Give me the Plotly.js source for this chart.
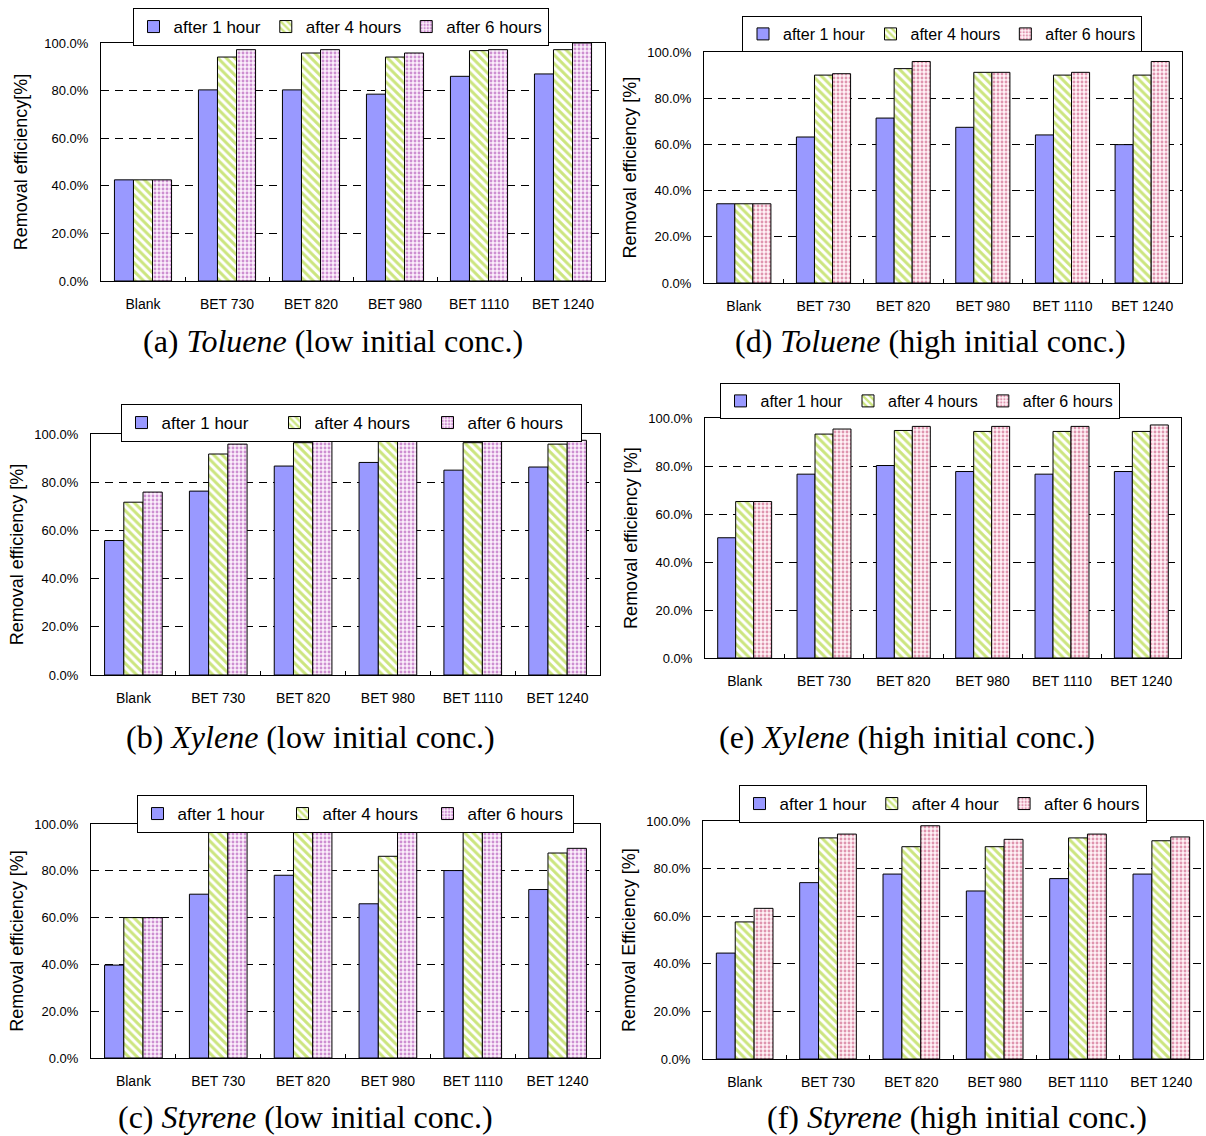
<!DOCTYPE html>
<html>
<head>
<meta charset="utf-8">
<script src="https://cdn.plot.ly/plotly-3.0.1.min.js"></script>
<style>html,body{margin:0;padding:0;background:#fff;}#chart{width:1206px;height:1136px;}</style>
</head>
<body>
<div id="chart"></div>
<script>
// ---- data ----
const categories = ['Blank', 'BET 730', 'BET 820', 'BET 980', 'BET 1110', 'BET 1240'];
const legendLabels = ['after 1 hour', 'after 4 hours', 'after 6 hours'];
const legendLabelsF = ['after 1 hour', 'after 4 hour', 'after 6 hours'];
const yTickVals = [0, 20, 40, 60, 80, 100];
const yTickText = ['0.0%', '20.0%', '40.0%', '60.0%', '80.0%', '100.0%'];

const tolueneLow1h = [42.5, 80.3, 80.3, 78.5, 86.0, 87.0];
const tolueneLow4h = [42.5, 94.1, 95.8, 94.1, 96.8, 97.2];
const tolueneLow6h = [42.5, 97.2, 97.2, 95.8, 97.2, 100.0];

const tolueneHigh1h = [34.3, 63.2, 71.4, 67.4, 64.1, 59.9];
const tolueneHigh4h = [34.3, 90.0, 92.8, 91.2, 90.0, 90.0];
const tolueneHigh6h = [34.3, 90.6, 95.9, 91.2, 91.2, 95.9];

const xyleneLow1h = [55.8, 76.3, 86.7, 88.2, 85.0, 86.3];
const xyleneLow4h = [71.7, 91.7, 96.4, 97.0, 96.4, 95.8];
const xyleneLow6h = [75.9, 95.8, 97.9, 97.9, 97.4, 97.4];

const xyleneHigh1h = [50.1, 76.6, 80.2, 77.7, 76.6, 77.7];
const xyleneHigh4h = [65.2, 93.3, 94.8, 94.4, 94.4, 94.4];
const xyleneHigh6h = [65.2, 95.4, 96.5, 96.5, 96.5, 97.1];

const styreneLow1h = [39.7, 70.0, 78.1, 65.9, 80.1, 72.0];
const styreneLow4h = [60.0, 100.0, 100.0, 86.2, 100.0, 87.6];
const styreneLow6h = [60.0, 100.0, 100.0, 100.0, 100.0, 89.6];

const styreneHigh1h = [44.5, 74.1, 77.7, 70.6, 75.8, 77.7];
const styreneHigh4h = [57.6, 92.9, 89.2, 89.2, 92.9, 91.7];
const styreneHigh6h = [63.3, 94.5, 98.0, 92.3, 94.5, 93.3];

// ---- layout config (pixel boxes) ----
const W = 1206, H = 1136;
const panels = [
  {series: [tolueneLow1h, tolueneLow4h, tolueneLow6h], labels: legendLabels, ytitle: 'Removal efficiency[%]',
   box: [101, 605, 43, 281], leg: [133, 548, 8], legFont: 17, legEntry: 0, dot: '#A030A8', dotBg: '#FBEFFB',
   cap: '(a) <i>Toluene</i> (low initial conc.)', capXY: [333, 341], standoff: 12},
  {series: [tolueneHigh1h, tolueneHigh4h, tolueneHigh6h], labels: legendLabels, ytitle: 'Removal efficiency [%]',
   box: [704, 1182, 52, 283], leg: [746, 1138, 16], legFont: 16, legEntry: 0, dot: '#C03868', dotBg: '#FFF2F6',
   cap: '(d) <i>Toluene</i> (high initial conc.)', capXY: [930, 341], standoff: 6},
  {series: [xyleneLow1h, xyleneLow4h, xyleneLow6h], labels: legendLabels, ytitle: 'Removal efficiency [%]',
   box: [91, 600, 434, 675], leg: [119, 583, 404], legFont: 17, legEntry: 108, dot: '#A030A8', dotBg: '#FBEFFB',
   cap: '(b) <i>Xylene</i> (low initial conc.)', capXY: [310, 737], standoff: 6},
  {series: [xyleneHigh1h, xyleneHigh4h, xyleneHigh6h], labels: legendLabels, ytitle: 'Removal efficiency [%]',
   box: [705, 1181, 418, 658], leg: [731, 1108, 383], legFont: 16, legEntry: 0, dot: '#C03868', dotBg: '#FFF2F6',
   cap: '(e) <i>Xylene</i> (high initial conc.)', capXY: [907, 737], standoff: 6},
  {series: [styreneLow1h, styreneLow4h, styreneLow6h], labels: legendLabels, ytitle: 'Removal efficiency [%]',
   box: [91, 600, 824, 1058], leg: [136, 574, 795], legFont: 17, legEntry: 100, dot: '#A030A8', dotBg: '#FBEFFB',
   cap: '(c) <i>Styrene</i> (low initial conc.)', capXY: [305, 1117], standoff: 6},
  {series: [styreneHigh1h, styreneHigh4h, styreneHigh6h], labels: legendLabelsF, ytitle: 'Removal Efficiency [%]',
   box: [703, 1203, 821, 1059], leg: [737, 1148, 785], legFont: 17, legEntry: 0, dot: '#C03868', dotBg: '#FFF2F6',
   cap: '(f) <i>Styrene</i> (high initial conc.)', capXY: [957, 1117], standoff: 6}
];

const sans = 'Liberation Sans, Arial, sans-serif';
const serif = 'Liberation Serif, Times New Roman, serif';

const traces = [];
const layout = {
  width: W, height: H,
  margin: {l: 0, r: 0, t: 0, b: 0},
  paper_bgcolor: '#fff', plot_bgcolor: '#fff',
  barmode: 'group', bargap: 0.32, bargroupgap: 0,
  font: {family: sans, color: '#000', size: 13},
  annotations: []
};

panels.forEach((p, i) => {
  const n = i === 0 ? '' : String(i + 1);
  const xa = 'x' + n, ya = 'y' + n;
  const legName = 'legend' + n;
  const styles = [
    {color: '#9999FF', line: {color: '#000', width: 1}},
    {color: '#fff', line: {color: '#000', width: 1},
     pattern: {shape: '\\', fgcolor: '#99CC00', bgcolor: '#fff', size: 6, solidity: 0.5, fillmode: 'overlay'}},
    {color: '#fff', line: {color: '#000', width: 1},
     pattern: {shape: '.', fgcolor: p.dot, bgcolor: p.dotBg, size: 4, solidity: 0.4, fillmode: 'overlay'}}
  ];
  p.series.forEach((vals, k) => {
    traces.push({
      type: 'bar', x: categories, y: vals, name: p.labels[k],
      xaxis: xa, yaxis: ya, legend: legName,
      marker: styles[k], hoverinfo: 'x+y+name', cliponaxis: false
    });
  });
  const [x0, x1, yt, yb] = p.box;
  layout['xaxis' + n] = {
    domain: [x0 / W, x1 / W], anchor: ya,
    showline: true, mirror: true, linecolor: '#000', linewidth: 1,
    ticks: 'inside', ticklen: 4, tickson: 'boundaries', tickcolor: '#000',
    ticklabelstandoff: 10,
    showgrid: false, tickfont: {size: 14, family: sans}, fixedrange: true
  };
  layout['yaxis' + n] = {
    domain: [1 - yb / H, 1 - yt / H], anchor: xa, range: [0, 100],
    tickmode: 'array', tickvals: yTickVals, ticktext: yTickText,
    showline: true, mirror: true, linecolor: '#000', linewidth: 1,
    showgrid: true, gridcolor: '#000', griddash: '8px,6px', gridwidth: 1,
    zeroline: false, ticks: '', ticklabelstandoff: 9, tickfont: {size: 13, family: sans},
    title: {text: p.ytitle, font: {size: 18, family: sans}, standoff: p.standoff},
    fixedrange: true
  };
  const leg = {
    x: (p.leg[0] + p.leg[1]) / 2 / W, y: 1 - p.leg[2] / H, xanchor: 'center', yanchor: 'top',
    orientation: 'h', bordercolor: '#000', borderwidth: 1, bgcolor: '#fff',
    font: {size: p.legFont, family: sans}, itemwidth: 30, traceorder: 'normal'
  };
  if (p.legEntry) leg.entrywidth = p.legEntry;
  layout[legName] = leg;
  layout.annotations.push({
    xref: 'paper', yref: 'paper', x: p.capXY[0] / W, y: 1 - p.capXY[1] / H,
    xanchor: 'center', yanchor: 'middle', showarrow: false, text: p.cap,
    font: {family: serif, size: 32, color: '#000'}
  });
});

Plotly.newPlot('chart', traces, layout, {staticPlot: true, displayModeBar: false});
</script>
</body>
</html>
